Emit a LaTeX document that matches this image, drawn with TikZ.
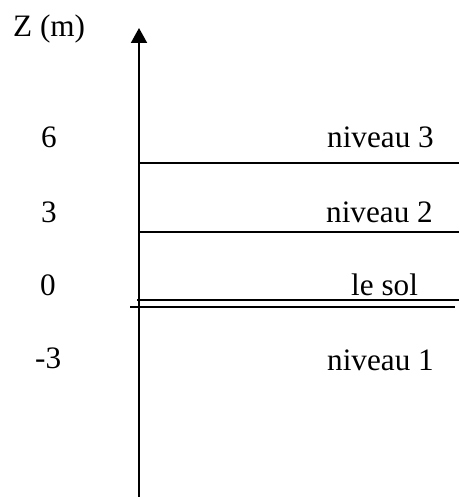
\documentclass[tikz,border=0pt]{standalone}
\usepackage{fontspec}
\setmainfont{Liberation Serif}
\usetikzlibrary{arrows.meta}
\begin{document}
\begin{tikzpicture}[x=1pt,y=-1pt,
  lbl/.style={anchor=base west,inner sep=0pt,font=\fontsize{31.2}{37}\selectfont},
  lvl/.style={line width=1.8pt},
  axis/.style={line width=2pt,-{Triangle[width=16pt,length=15pt]}}]
\useasboundingbox (0,0) rectangle (459,497);
% axis
\coordinate (axb) at (139,497);
\coordinate (axt) at (139,28);
\draw[axis] (axb) -- (axt);
% level lines
\coordinate (n3a) at (138,163); \coordinate (n3b) at (459,163);
\coordinate (n2a) at (138,232); \coordinate (n2b) at (459,232);
\coordinate (s1a) at (137,300); \coordinate (s1b) at (459,300);
\coordinate (s2a) at (130,307); \coordinate (s2b) at (455,307);
\draw[lvl] (n3a) -- (n3b);
\draw[lvl] (n2a) -- (n2b);
\draw[lvl] (s1a) -- (s1b);
\draw[lvl] (s2a) -- (s2b);
% labels
\node[lbl] (zm) at (13,37) {Z (m)};
\node[lbl] (v6) at (41,148) {6};
\node[lbl] (v3) at (41,222) {3};
\node[lbl] (v0) at (40,295) {0};
\node[lbl] (vm3) at (35,368) {-3};
\node[lbl] (l3) at (327,147) {niveau 3};
\node[lbl] (l2) at (326,222) {niveau 2};
\node[lbl] (ls) at (351,295) {le sol};
\node[lbl] (l1) at (327,370) {niveau 1};
\end{tikzpicture}
\end{document}
